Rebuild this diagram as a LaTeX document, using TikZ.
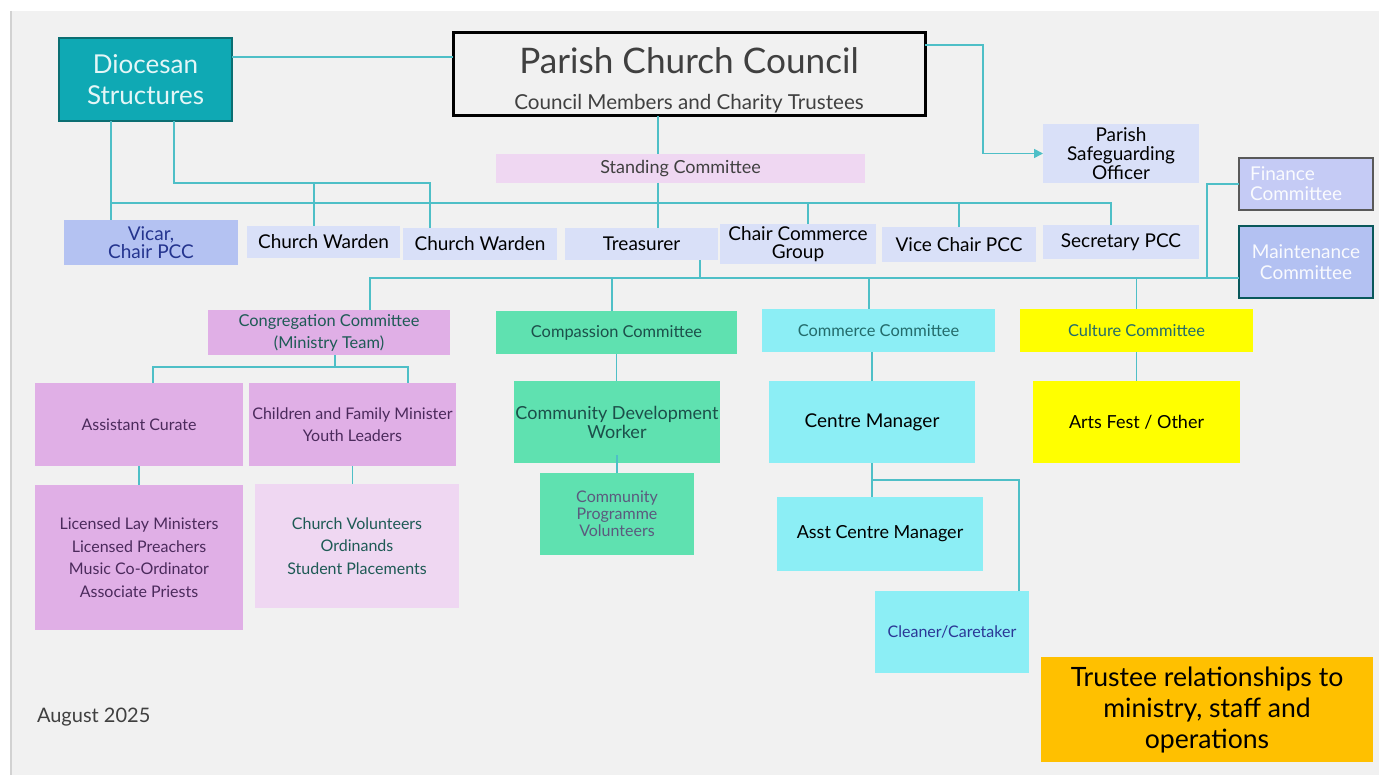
\documentclass[tikz,border=0pt]{standalone}
\usepackage{fontspec}
\setmainfont{Lato}
\usetikzlibrary{positioning,arrows.meta}

\definecolor{panel}{HTML}{F1F1F1}
\definecolor{paneledge}{HTML}{D2D2D2}
\definecolor{linkc}{HTML}{4EBFC7}
\definecolor{dioc}{HTML}{0FA9B4}
\definecolor{diod}{HTML}{0B6E72}
\definecolor{diot}{HTML}{E4F6F7}
\definecolor{pcct}{HTML}{404040}
\definecolor{offc}{HTML}{D9E0F8}
\definecolor{vicc}{HTML}{B4C2F2}
\definecolor{vict}{HTML}{24348E}
\definecolor{standc}{HTML}{EFD7F2}
\definecolor{finc}{HTML}{C5CBF5}
\definecolor{maintc}{HTML}{B3C1F2}
\definecolor{lilac}{HTML}{E0AFE6}
\definecolor{lilact}{HTML}{4B2A5C}
\definecolor{tealt}{HTML}{1E5A55}
\definecolor{mint}{HTML}{5FE1B0}
\definecolor{mintt}{HTML}{1C4F4A}
\definecolor{cpvt}{HTML}{5B5A7E}
\definecolor{cyanc}{HTML}{8CEEF5}
\definecolor{cyant}{HTML}{236B6B}
\definecolor{navyt}{HTML}{2B3796}
\definecolor{yell}{HTML}{FFFF00}
\definecolor{orng}{HTML}{FFC000}

\newcommand{\setfs}[2]{\fontsize{#1}{#2}\selectfont}

\begin{document}
\begin{tikzpicture}[x=0.5pt,y=-0.5pt,
  every node/.style={inner sep=1pt,outer sep=0pt,align=center},
  sz/.style 2 args={minimum width=#1*0.5pt,minimum height=#2*0.5pt},
  link/.style={draw=linkc,line width=0.8pt},
  office/.style={fill=offc,text=black,font=\setfs{9.5}{9.5}},
  committee/.style={sz={235}{43},font=\setfs{8.2}{11}}]

\useasboundingbox (0,0) rectangle (1379,775);
\fill[white] (0,0) rectangle (1379,775);
\fill[panel] (10,11) rectangle (1379,775);
\draw[paneledge,line width=1pt] (11,11) -- (11,775);

% council and diocese
\node (dio) [sz={173}{83},fill=dioc,draw=diod,line width=0.6pt,text=diot,font=\setfs{13}{15.5}] at (145.5,79.5) {Diocesan\\Structures};
\node (pcc) [sz={472}{83},draw=black,line width=1.5pt] at (689,74.5) {};
\node (pccT) [font=\setfs{17.6}{20},text=pcct] at (689,61) {Parish Church Council};
\node (pccS) [font=\setfs{10.3}{12},text=pcct] at (689,104) {Council Members and Charity Trustees};
\node (sgo) [office,sz={156}{59},font=\setfs{9.5}{9.3}] at (1121,153.5) {Parish\\Safeguarding\\Officer};
\node (stand) [sz={369}{29},fill=standc,text=pcct,font=\setfs{9}{11}] at (680.5,168.5) {Standing Committee};

% officers
\node (vicar) [sz={174}{45},fill=vicc,text=vict,font=\setfs{9.5}{9}] at (151,242.5) {Vicar,\\Chair PCC};
\node (cw1) [office,sz={153}{32}] at (323.5,242) {Church Warden};
\node (cw2) [office,sz={154}{32}] at (480,244) {Church Warden};
\node (treas) [office,sz={153}{32}] at (641.5,244) {Treasurer};
\node (ccg) [office,sz={156}{36},font=\setfs{9.5}{9}] at (798,244) {Chair Commerce\\Group};
\node (vcp) [office,sz={154}{35}] at (959,244.5) {Vice Chair PCC};
\node (sec) [office,sz={156}{34}] at (1121,242) {Secretary PCC};
\node (fin) [sz={134}{52},fill=finc,draw=black!65,line width=0.6pt,text=white!92!finc,font=\setfs{9.5}{10},align=left,text width=56pt] at (1306,184) {Finance\\Committee};
\node (maint) [sz={134}{72},fill=maintc,draw=diod!80!black,line width=0.6pt,text=white!92!maintc,font=\setfs{9.5}{10.5}] at (1306,262) {Maintenance\\Committee};

% committees
\node (cong) [committee,sz={242}{45},fill=lilac,text=tealt] at (329,332.5) {Congregation Committee\\(Ministry Team)};
\node (comp) [committee,sz={241}{43},fill=mint,text=mintt] at (616.5,332.5) {Compassion Committee};
\node (comm) [committee,sz={233}{43},fill=cyanc,text=cyant] at (878.5,330.5) {Commerce Committee};
\node (cult) [committee,sz={233}{43},fill=yell,text=cyant] at (1136.5,330.5) {Culture Committee};

% staff and volunteers
\node (curate) [sz={208}{83},fill=lilac,text=lilact,font=\setfs{8}{11}] at (139,424.5) {Assistant Curate};
\node (cfm) [sz={207}{83},fill=lilac,text=lilact,font=\setfs{8}{11}] at (352.5,424.5) {Children and Family Minister\\Youth Leaders};
\node (lay) [sz={208}{145},fill=lilac,text=lilact,font=\setfs{8}{11.3}] at (139,557.5) {Licensed Lay Ministers\\Licensed Preachers\\Music Co-Ordinator\\Associate Priests};
\node (vol) [sz={204}{124},fill=standc,text=tealt,font=\setfs{8}{11.3}] at (357,546) {Church Volunteers\\Ordinands\\Student Placements};
\node (cdw) [sz={206}{82},fill=mint,text=mintt,font=\setfs{9}{9.5},inner sep=0pt] at (617,422) {Community Development\\Worker};
\node (cpv) [sz={154}{82},fill=mint,text=cpvt,font=\setfs{8}{8.5}] at (617,514) {Community\\Programme\\Volunteers};
\node (cman) [sz={206}{82},fill=cyanc,text=black,font=\setfs{9.5}{11}] at (872,422) {Centre Manager};
\node (acm) [sz={206}{74},fill=cyanc,text=black,font=\setfs{9}{11}] at (880,534) {Asst Centre Manager};
\node (clean) [sz={154}{82},fill=cyanc,text=navyt,font=\setfs{8}{11}] at (952,632) {Cleaner/Caretaker};
\node (arts) [sz={207}{82},fill=yell,text=black,font=\setfs{9}{11}] at (1136.5,422) {Arts Fest / Other};

\node (trust) [sz={332}{105},fill=orng,text=black,font=\setfs{13.3}{15.5}] at (1207,709.5) {Trustee relationships to\\ministry, staff and\\operations};
\node (aug) [anchor=west,text=pcct,font=\setfs{10}{12}] at (35,717) {August 2025};

% junctions
\coordinate (jDio) at (0,57);
\coordinate (jSgo) at (983,45);
\coordinate (spine) at (658,203);
\coordinate (barL) at (111,203);
\coordinate (barR) at (1111,203);
\coordinate (jCcg) at (808,203);
\coordinate (wA) at (174,183);
\coordinate (wB) at (430,183);
\coordinate (wC) at (314,183);
\coordinate (cbL) at (370,278);
\coordinate (cbT) at (700,278);
\coordinate (cbP) at (612,278);
\coordinate (cbC) at (869,278);
\coordinate (cbF) at (1207,278);
\coordinate (gL) at (153,367);
\coordinate (gR) at (408,367);
\coordinate (gM) at (335,367);
\coordinate (jCl) at (1019,480);

% connectors
\draw[link] (dio.east |- jDio) -- (pcc.west |- jDio);
\draw[link,-{Triangle[length=4.5pt,width=4.5pt]}] (pcc.east |- jSgo) -- (jSgo) |- (sgo.west);
\draw[link] (pcc.south -| spine) -- (stand.north -| spine);
\draw[link] (stand.south -| spine) -- (treas.north -| spine);
\draw[link] (dio.south -| barL) -- (vicar.north -| barL);
\draw[link] (barL) -- (barR) -- (sec.north -| barR);
\draw[link] (jCcg) -- (ccg.north -| jCcg);
\draw[link] (vcp.north) -- (vcp.north |- barL);
\draw[link] (dio.south -| wA) -- (wA) -- (wB) -- (cw2.north -| wB);
\draw[link] (wC) -- (cw1.north -| wC);

\draw[link] (treas.south -| cbT) -- (cbT);
\draw[link] (cong.north -| cbL) -- (cbL) -- (cbL -| maint.west);
\draw[link] (cbP) -- (comp.north -| cbP);
\draw[link] (cbC) -- (comm.north -| cbC);
\draw[link] (cult.north) -- (cult.north |- cbL);
\draw[link] (cbF) |- (fin.west);

\draw[link] (cong.south -| gM) -- (gM);
\draw[link] (curate.north -| gL) -- (gL) -- (gR) -- (cfm.north -| gR);
\draw[link] (curate) -- (lay);
\draw[link] (cfm.south) -- (cfm.south |- vol.north);
\draw[link] (comp.south) -- (comp.south |- cdw.north);
\draw[link] (cpv.north) -- ([yshift=4pt]cdw.south);
\draw[link] (cman.north) -- (cman.north |- comm.south);
\draw[link] (cman.south) -- (cman.south |- acm.north);
\draw[link] (cman.south |- jCl) -- (jCl) -- (jCl |- clean.north);
\draw[link] (cult) -- (arts);
\end{tikzpicture}
\end{document}
